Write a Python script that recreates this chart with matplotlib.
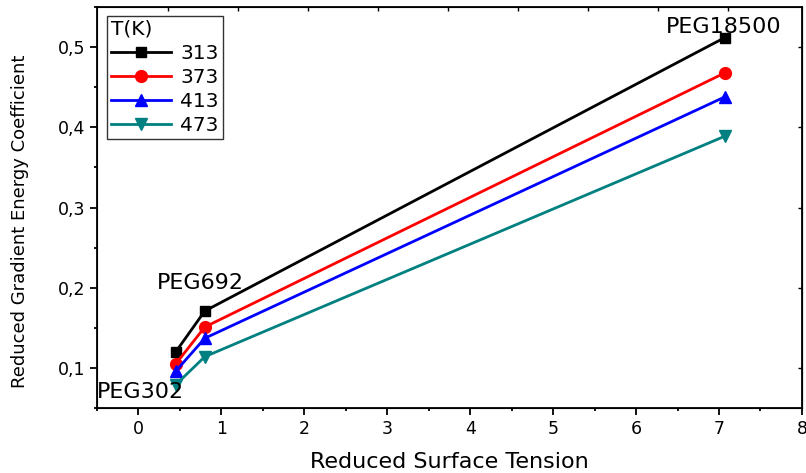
import matplotlib
matplotlib.use("Agg")
import matplotlib.pyplot as plt
from matplotlib.ticker import MultipleLocator

# ---- data ----
x_vals = [0.45, 0.80, 7.07]
temps = ["313", "373", "413", "473"]
y_313 = [0.120, 0.171, 0.512]
y_373 = [0.105, 0.151, 0.468]
y_413 = [0.096, 0.137, 0.438]
y_473 = [0.079, 0.114, 0.389]
series = [y_313, y_373, y_413, y_473]
colors = ["#000000", "#ff0000", "#0000ff", "#008080"]
markers = ["s", "o", "^", "v"]
msizes = [7, 8.5, 9, 9]

xticks = [0, 1, 2, 3, 4, 5, 6, 7, 8]
yticks = [0.1, 0.2, 0.3, 0.4, 0.5]
ytick_labels = ["0,1", "0,2", "0,3", "0,4", "0,5"]

annot_text = ["PEG302", "PEG692", "PEG18500"]
annot_x = [0.03, 0.75, 7.06]
annot_y = [0.0625, 0.199, 0.5175]

plt.rcParams["font.family"] = ["DejaVu Sans"]

fig = plt.figure(figsize=(8.06, 4.73), dpi=100)
ax = fig.add_axes([0.1203, 0.1374, 0.8747, 0.8476])

for ys, c, m, ms, lab in zip(series, colors, markers, msizes, temps):
    ax.plot(x_vals, ys, color=c, marker=m, markersize=ms, linewidth=2.0,
            label=lab, clip_on=False)

ax.set_xlim(-0.5, 8)
ax.set_ylim(0.05, 0.55)
ax.set_xticks(xticks)
ax.set_yticks(yticks)
ax.set_yticklabels(ytick_labels)
ax.xaxis.set_minor_locator(MultipleLocator(0.5))
ax.yaxis.set_minor_locator(MultipleLocator(0.05))
ax.tick_params(which="major", direction="out", length=5, width=1.3,
               labelsize=12.5, top=False, right=False)
ax.tick_params(which="minor", direction="out", length=2.5, width=1.3,
               top=False, right=False)
for s in ax.spines.values():
    s.set_linewidth(1.3)

ax.set_xlabel("Reduced Surface Tension", fontsize=16, labelpad=10)
ax.set_ylabel("Reduced Gradient Energy Coefficient", fontsize=13)
ax.yaxis.set_label_coords(-0.096, 0.466)

for t, xx, yy in zip(annot_text, annot_x, annot_y):
    ax.text(xx, yy, t, fontsize=16, ha="center", va="baseline")

# right-side inner ticks
axr = ax.secondary_yaxis("right")
axr.set_yticks(yticks)
axr.tick_params(direction="in", length=3, width=1.0, labelright=False)

# top inner ticks (separate scale as in original)
axt = ax.twiny()
axt.set_xlim(-1.014, 9.057)
axt.set_xticks(list(range(0, 9)))
axt.tick_params(direction="in", length=3, width=1.0, labeltop=False)
axt.set_zorder(0)

leg = ax.legend(title="T(K)", loc="upper left", bbox_to_anchor=(0.0142, 0.978),
                fontsize=14.5, title_fontsize=14.5, frameon=True, fancybox=False,
                edgecolor="black", handlelength=3.0, handletextpad=0.45,
                labelspacing=0.25, borderpad=0.2, borderaxespad=0,
                alignment="left")
leg.get_frame().set_linewidth(1.0)
ax.set_zorder(1)
ax.patch.set_visible(False)

fig.savefig("out.png", dpi=100)
